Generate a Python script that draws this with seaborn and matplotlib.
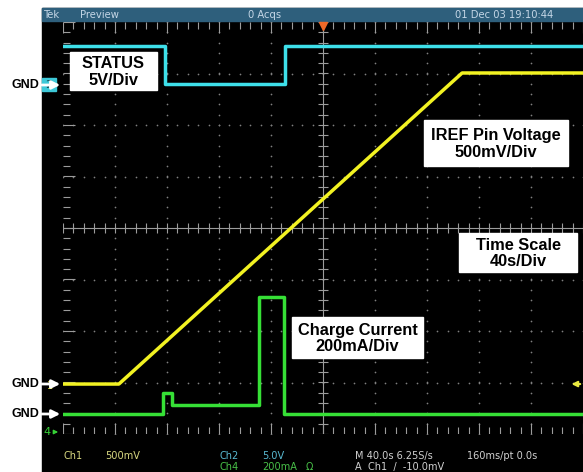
import numpy as np
import pandas as pd
import matplotlib
matplotlib.use('Agg')
import matplotlib.pyplot as plt
from matplotlib.patches import Rectangle
import seaborn as sb

# trace data, time in s, values in channel units
ch1_time = [0, 43, 307, 400]            # IREF pin voltage (V)
ch1_volt = [0.0, 0.0, 3.02, 3.02]
ch2_time = [0, 78.5, 78.5, 171, 171, 400]   # STATUS (V)
ch2_volt = [3.8, 3.8, 0.1, 0.1, 3.8, 3.8]
ch4_time = [0, 77, 77, 84, 84, 151, 151, 170, 170, 400]   # charge current (mA)
ch4_amp = [0, 0, 82, 82, 35, 35, 454, 454, 0, 0]

# volts (or mA) per division and ground offset in divisions
ch1_scale, ch1_gnd = 0.5, -3.03
ch2_scale, ch2_gnd = 5.0, 2.78
ch4_scale, ch4_gnd = 200.0, -3.61

header_texts = ['Tek', 'Preview', '0 Acqs', '01 Dec 03 19:10:44']
labels = [('STATUS\n5V/Div', 70, 52, 87, 38),
          ('IREF Pin Voltage\n500mV/Div', 424, 120, 144, 46),
          ('Time Scale\n40s/Div', 459, 233, 118, 39),
          ('Charge Current\n200mA/Div', 292, 317, 131, 41)]

W, H = 583, 472
fig = plt.figure(figsize=(W / 100, H / 100), dpi=100)
fig.patch.set_facecolor('white')

narrow = ['Liberation Sans Narrow', 'DejaVu Sans']
bold = ['Liberation Sans', 'DejaVu Sans']

# background: black screen and header bar, pixel coords
bg = fig.add_axes([0, 0, 1, 1], zorder=0)
bg.set_xlim(0, W)
bg.set_ylim(H, 0)
bg.axis('off')
bg.add_patch(Rectangle((42, 8), W - 42, H - 8, color='black'))
bg.add_patch(Rectangle((42, 8), W - 42, 12.5, color='#2e5f7c'))
for txt, x in zip(header_texts, [44, 80, 248, 455]):
    bg.text(x, 14.5, txt, color='#c4d6e6', fontsize=8, family=narrow,
            fontstretch='condensed', va='center')

# graticule axes
ax = fig.add_axes([63 / W, 1 - 434 / H, 520 / W, 412 / H], zorder=1)
ax.set_facecolor('black')

grid_col = '#808080'
xs = np.arange(0, 400.1, 8)
ys = np.arange(-4, 4.01, 0.2)
for gx in range(40, 400, 40):
    if gx != 200:
        ax.scatter([gx] * len(ys), ys, s=1.5, color=grid_col, linewidths=0)
for gy in range(-3, 4):
    if gy != 0:
        ax.scatter(xs, [gy] * len(xs), s=1.5, color=grid_col, linewidths=0)

ax.axhline(0, color='#9c9c9c', lw=0.8)
ax.axvline(200, color='#9c9c9c', lw=0.8)
ax.vlines(xs, -0.09, 0.09, color='#9c9c9c', lw=0.8)
ax.hlines(ys, 196, 204, color='#9c9c9c', lw=0.8)
major = (xs % 40 == 0)
ax.vlines(xs, 4 - np.where(major, 0.22, 0.13), 4, color='#9c9c9c', lw=0.8)
ax.vlines(xs, -4, -4 + np.where(major, 0.22, 0.13), color='#9c9c9c', lw=0.8)
ymajor = np.isclose(ys % 1, 0) | np.isclose(ys % 1, 1)
ax.hlines(ys, 0, np.where(ymajor, 9, 5), color='#9c9c9c', lw=0.8)

df = pd.concat([
    pd.DataFrame({'t': ch2_time, 'div': np.array(ch2_volt) / ch2_scale + ch2_gnd, 'ch': 'Ch2'}),
    pd.DataFrame({'t': ch1_time, 'div': np.array(ch1_volt) / ch1_scale + ch1_gnd, 'ch': 'Ch1'}),
    pd.DataFrame({'t': ch4_time, 'div': np.array(ch4_amp) / ch4_scale + ch4_gnd, 'ch': 'Ch4'}),
])
palette = {'Ch1': '#f2f222', 'Ch2': '#3ee0ea', 'Ch4': '#36e036'}
sb.lineplot(data=df, x='t', y='div', hue='ch', units='ch', estimator=None, sort=False,
            palette=palette, lw=2.5, legend=False, ax=ax)
ax.set_xlim(0, 400)
ax.set_ylim(-4, 4)
ax.axis('off')

# trigger markers
ax.plot(200, 3.93, marker='v', color='#f06a28', markersize=6, clip_on=False)
ax.annotate('', xy=(389, ch1_gnd), xytext=(400, ch1_gnd), annotation_clip=False,
            arrowprops=dict(arrowstyle='-|>', color='#e8e840', lw=1.5, mutation_scale=8))

# overlay: labels, channel markers, readouts
ov = fig.add_axes([0, 0, 1, 1], zorder=2)
ov.set_xlim(0, W)
ov.set_ylim(H, 0)
ov.axis('off')
ov.patch.set_alpha(0)

for txt, x, y, w, h in labels:
    ov.add_patch(Rectangle((x, y), w, h, color='white'))
    ov.text(x + w / 2, y + h / 2 + 1, txt, ha='center', va='center', fontsize=11.8,
            fontweight='bold', family=bold, linespacing=1.12, color='black')

ov.add_patch(Rectangle((42, 78), 14, 13, color='#3ec8d8'))
ov.text(49, 85, '2', color='#1a4a55', fontsize=8, ha='center', va='center', family=narrow)
ov.text(50, 386, '1', color='#e8e840', fontsize=7, ha='center', va='center', family=narrow)
ov.text(47, 432, '4', color='#36d036', fontsize=8, ha='center', va='center', family=narrow)
ov.annotate('', xy=(61, 432), xytext=(52, 432),
            arrowprops=dict(arrowstyle='-|>', color='#36d036', lw=1, mutation_scale=6))

for gy in [85, 384, 414]:
    ov.text(39, gy, 'GND', ha='right', va='center', fontsize=9, fontweight='bold',
            family=bold, color='black')
    ov.annotate('', xy=(63, gy), xytext=(39, gy),
                arrowprops=dict(arrowstyle='-|>', color='white', lw=2, mutation_scale=12))

readouts = [('Ch1', 64, 456, '#d8d880'), ('500mV', 105, 456, '#d8d880'),
            ('Ch2', 220, 456, '#58b8d0'), ('5.0V', 262, 456, '#58b8d0'),
            ('Ch4', 220, 467, '#48c048'), ('200mA', 262, 467, '#48c048'),
            ('\u03a9', 306, 467, '#48c048'),
            ('M 40.0s 6.25S/s', 355, 456, '#d0d0d0'), ('160ms/pt 0.0s', 467, 456, '#d0d0d0'),
            ('A  Ch1  \u2215  -10.0mV', 355, 467, '#d0d0d0')]
for txt, x, y, c in readouts:
    ov.text(x, y, txt, color=c, fontsize=7.8, family=narrow, fontstretch='condensed',
            va='center')

fig.savefig('out.png', dpi=100, facecolor='white')
